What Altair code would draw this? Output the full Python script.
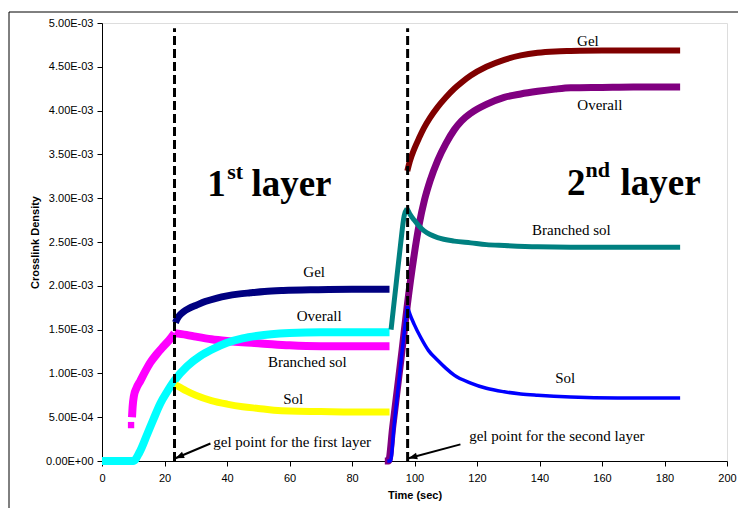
import altair as alt
import pandas as pd

# ---------------- data (time in s, crosslink density in units of 1E-03) ----------------
# first layer
overall1_t = [0, 5, 10, 12, 14.4, 16.5, 18.7, 21, 23.2, 27.2, 31.5, 35, 40, 45, 50, 60, 70, 80, 92]
overall1_v = [0, 0, 0, 0.1, 0.3, 0.48, 0.66, 0.8, 0.92, 1.08, 1.2, 1.27, 1.35, 1.40, 1.43, 1.46, 1.47, 1.47, 1.47]

branched1_t = [9.6, 9.8, 10.2, 11, 12.2, 13.8, 15.4, 17.5, 19.7, 21.5, 23.2, 27, 30, 35, 40, 45, 50, 60, 70, 80, 92]
branched1_v = [0.50, 0.62, 0.74, 0.83, 0.91, 1.02, 1.12, 1.22, 1.31, 1.38, 1.46, 1.44, 1.42, 1.39, 1.37, 1.355, 1.345, 1.32, 1.31, 1.31, 1.31]
branched1_first_t = [9.3]
branched1_first_v = [0.41]

gel1_t = [23.5, 24, 25, 26.1, 28, 30, 33, 36.8, 40, 43.5, 47.5, 52, 58, 68.7, 80, 92]
gel1_v = [1.58, 1.62, 1.67, 1.705, 1.745, 1.775, 1.82, 1.86, 1.885, 1.905, 1.92, 1.935, 1.946, 1.955, 1.96, 1.96]

sol1_t = [23.5, 25, 27, 30, 35, 40, 45, 50, 55, 60, 70, 80, 92]
sol1_v = [0.87, 0.84, 0.80, 0.75, 0.69, 0.65, 0.62, 0.60, 0.58, 0.57, 0.565, 0.56, 0.56]

# second layer
overall2_t = [90.5, 91.7, 93, 94.5, 96, 97.7, 99.8, 101.5, 103.2, 105, 107.4, 110, 112.7, 115, 118, 123,
              128.7, 134, 139.4, 145, 150, 160, 170, 185]
overall2_v = [0, 0, 0.38, 0.82, 1.26, 1.78, 2.33, 2.7, 2.98, 3.20, 3.43, 3.62, 3.78, 3.88, 3.97, 4.07,
              4.15, 4.19, 4.22, 4.245, 4.26, 4.265, 4.27, 4.27]

gel2_t = [97.7, 98.5, 99.9, 101.5, 103, 105, 107.4, 110, 112.7, 115, 118, 123, 128.7, 134, 139.4, 145, 150, 160, 170, 185]
gel2_v = [3.31, 3.42, 3.56, 3.69, 3.80, 3.92, 4.04, 4.15, 4.25, 4.32, 4.40, 4.50, 4.58, 4.63, 4.66, 4.675, 4.68, 4.685, 4.685, 4.685]

branched2_t = [92.5, 94, 95.5, 96.7, 97.6, 98.5, 99.9, 101.5, 103, 105, 107.4, 112.7, 118, 123, 128.7, 139.4, 150, 165, 185]
branched2_v = [1.50, 1.98, 2.46, 2.80, 2.88, 2.82, 2.75, 2.68, 2.63, 2.585, 2.55, 2.51, 2.49, 2.47, 2.46, 2.445, 2.44, 2.44, 2.44]

sol2_t = [91.3, 92.3, 93.5, 95, 96.5, 97.7, 98.5, 99.9, 102, 104.5, 107.4, 110, 112.7, 118, 123, 128.7, 134, 139.4, 150, 165, 185]
sol2_v = [0, 0, 0.42, 0.91, 1.40, 1.77, 1.68, 1.56, 1.41, 1.26, 1.15, 1.06, 0.98, 0.89, 0.83, 0.79, 0.765, 0.75, 0.73, 0.72, 0.72]

# gel points (dashed lines)
gel_point_t = [23.2, 97.8]
gel_point_top = 4.94

# axis ticks
x_ticks = [0, 20, 40, 60, 80, 100, 120, 140, 160, 180, 200]
y_ticks = [0, 0.5, 1.0, 1.5, 2.0, 2.5, 3.0, 3.5, 4.0, 4.5, 5.0]
y_tick_labels = ["0.00E+00", "5.00E-04", "1.00E-03", "1.50E-03", "2.00E-03", "2.50E-03",
                 "3.00E-03", "3.50E-03", "4.00E-03", "4.50E-03", "5.00E-03"]

# text labels (centered)
label_text = ["Gel", "Overall", "Branched sol", "Sol", "Gel", "Overall", "Branched sol", "Sol"]
label_t = [67.9, 69.5, 65.7, 61.2, 155.5, 159.3, 150.2, 148.2]
label_v = [2.10, 1.594, 1.078, 0.651, 4.735, 4.011, 2.583, 0.895]

# gel-point notes (left aligned) and arrows
note_text = ["gel point for the first layer", "gel point for the second layer"]
note_t = [35.6, 117.5]
note_v = [0.163, 0.232]
arrow_tail_t = [34.7, 114.7]
arrow_tail_v = [0.20, 0.19]
arrow_tip_t = [23.5, 98.1]
arrow_tip_v = [0.031, 0.031]

# big layer titles
big_text = ["1", "layer", "2", "layer"]
big_t = [33.7, 47.8, 148.8, 165.9]
big_v = [3.03, 3.03, 3.04, 3.04]
sup_text = ["st", "nd"]
sup_t = [40.1, 154.7]
sup_v = [3.22, 3.246]

# ---------------- styles ----------------
series = [
    # (t, v, color, width, split time for sharp corner)
    (branched1_t, branched1_v, "#FF00FF", 8, 23.2),
    (overall1_t, overall1_v, "#00FFFF", 8, None),
    (gel1_t, gel1_v, "#000080", 7, None),
    (sol1_t, sol1_v, "#FFFF00", 7, None),
    (overall2_t, overall2_v, "#800080", 7, None),
    (gel2_t, gel2_v, "#800000", 6, None),
    (branched2_t, branched2_v, "#008080", 5, 97.6),
    (sol2_t, sol2_v, "#0000FF", 3.5, 97.7),
]

label_expr = "{}[indexof({}, datum.value)]".format(
    "[" + ",".join("'%s'" % s for s in y_tick_labels) + "]",
    "[" + ",".join(str(v) for v in y_ticks) + "]",
)

X = alt.X("t:Q", scale=alt.Scale(domain=[0, 200], nice=False, zero=False),
          axis=alt.Axis(values=x_ticks, title="Time (sec)", grid=False, tickSize=5,
                        labelPadding=6, titlePadding=6, labelFontSize=11, titleFontSize=11,
                        labelFont="Liberation Sans", titleFont="Liberation Sans",
                        titleFontWeight="bold", labelColor="black", titleColor="black",
                        domainColor="black", tickColor="black", labelFlush=False))
Y = alt.Y("v:Q", scale=alt.Scale(domain=[0, 5], nice=False, zero=False),
          axis=alt.Axis(values=y_ticks, labelExpr=label_expr, title="Crosslink Density",
                        grid=False, tickSize=5, labelPadding=4, titlePadding=5,
                        labelFontSize=11, titleFontSize=11, labelFont="Liberation Sans",
                        titleFont="Liberation Sans", titleFontWeight="bold",
                        labelColor="black", titleColor="black", domainColor="black",
                        tickColor="black", labelFlush=False))

layers = []

# outer chart-area frame
dummy = pd.DataFrame({"a": [0]})
layers.append(alt.Chart(dummy).mark_rule(color="black", strokeWidth=1).encode(
    x=alt.value(-93), x2=alt.value(700), y=alt.value(-11)))
layers.append(alt.Chart(dummy).mark_rule(color="black", strokeWidth=1).encode(
    x=alt.value(-93), y=alt.value(-11), y2=alt.value(520)))

for t, v, color, w, split in series:
    rows = []
    for ti, vi in zip(t, v):
        if split is not None and ti == split:
            rows.append({"t": ti, "v": vi, "seg": 0})
            rows.append({"t": ti, "v": vi, "seg": 1})
        else:
            seg = 0 if (split is None or ti < split) else 1
            rows.append({"t": ti, "v": vi, "seg": seg})
    df = pd.DataFrame(rows)
    layers.append(alt.Chart(df).mark_line(color=color, strokeWidth=w, interpolate="monotone",
                                          strokeCap="butt").encode(
        x=X, y=Y, detail="seg:N", order="t:Q"))
    if color == "#FF00FF":
        layers.append(alt.Chart(pd.DataFrame({"t": branched1_first_t, "v": branched1_first_v}))
                      .mark_square(color=color, size=40, opacity=1).encode(x=X, y=Y))

# dashed gel-point lines
gp = pd.DataFrame({"t": gel_point_t, "v": [0] * len(gel_point_t), "v2": [gel_point_top] * len(gel_point_t)})
layers.append(alt.Chart(gp).mark_rule(color="black", strokeWidth=3, strokeDash=[9, 4]).encode(
    x=X, y=Y, y2="v2:Q"))

# arrows
arr = pd.DataFrame({"t": arrow_tail_t, "v": arrow_tail_v, "t2": arrow_tip_t, "v2": arrow_tip_v})
layers.append(alt.Chart(arr).mark_rule(color="black", strokeWidth=2).encode(
    x=X, y=Y, x2="t2:Q", y2="v2:Q"))
arrow_angles = [156.8, 164.8]
for i in range(len(arrow_tip_t)):
    head = pd.DataFrame({"t": [arrow_tip_t[i]], "v": [arrow_tip_v[i]]})
    layers.append(alt.Chart(head).mark_point(shape="M0,0L-1,-0.4L-1,0.4Z", filled=True, size=300,
                                             color="black", opacity=1, angle=arrow_angles[i]).encode(x=X, y=Y))

# labels
lab = pd.DataFrame({"t": label_t, "v": label_v, "txt": label_text})
layers.append(alt.Chart(lab).mark_text(font="Liberation Serif", fontSize=15, color="black",
                                       align="center", baseline="alphabetic").encode(
    x=X, y=Y, text="txt:N"))
notes = pd.DataFrame({"t": note_t, "v": note_v, "txt": note_text})
layers.append(alt.Chart(notes).mark_text(font="Liberation Serif", fontSize=15, color="black",
                                         align="left", baseline="alphabetic").encode(
    x=X, y=Y, text="txt:N"))
big = pd.DataFrame({"t": big_t, "v": big_v, "txt": big_text})
layers.append(alt.Chart(big).mark_text(font="Liberation Serif", fontSize=37, fontWeight="bold",
                                       color="black", align="left", baseline="alphabetic").encode(
    x=X, y=Y, text="txt:N"))
sup = pd.DataFrame({"t": sup_t, "v": sup_v, "txt": sup_text})
layers.append(alt.Chart(sup).mark_text(font="Liberation Serif", fontSize=22, fontWeight="bold",
                                       color="black", align="left", baseline="alphabetic").encode(
    x=X, y=Y, text="txt:N"))

chart = alt.layer(*layers).properties(
    width=625, height=438,
    autosize=alt.AutoSizeParams(type="none"),
    padding={"left": 94, "top": 15, "right": 11, "bottom": 47},
).configure_view(stroke="#808080", strokeWidth=1).configure(background="white")

chart.save("out.html", embed_options={"renderer": "svg", "actions": False})
